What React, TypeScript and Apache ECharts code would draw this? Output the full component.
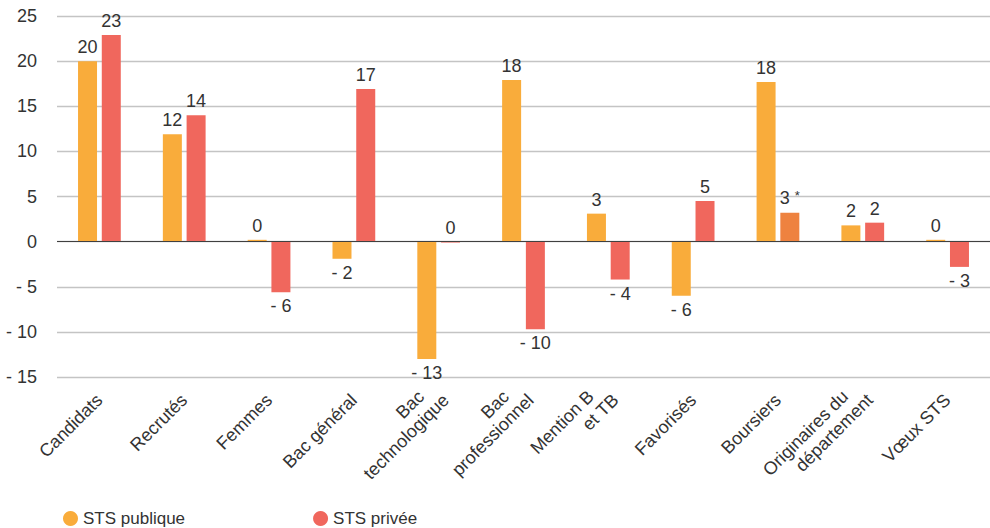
import React, { useEffect, useRef } from "react";
import * as echarts from "echarts";

// Category labels (line breaks as displayed under the axis)
const categories: string[] = [
  "Candidats",
  "Recrutés",
  "Femmes",
  "Bac général",
  "Bac\ntechnologique",
  "Bac\nprofessionnel",
  "Mention B\net TB",
  "Favorisés",
  "Boursiers",
  "Originaires du\ndépartement",
  "Vœux STS",
];

const seriesNames: string[] = ["STS publique", "STS privée"];

// Differences in points
const publique: number[] = [20, 11.9, 0.2, -1.9, -13, 17.9, 3.1, -6, 17.7, 1.8, 0.2];
const privee: number[] = [22.9, 14, -5.6, 16.9, -0.1, -9.7, -4.2, 4.5, 3.2, 2.1, -2.8];

// Footnote markers attached to some values of the private series
const priveeNotes: string[] = ["", "", "", "", "", "", "", "", "*", "", ""];

const yTicks = { min: -15, max: 25, interval: 5 };

const FONT = "'Liberation Sans', Arial, sans-serif";
const TEXT = "#333333";
const ORANGE = "#F9AC3B";
const RED = "#F0675D";
const DARK_ORANGE = "#EE823F";
const AXIS_FS = 18;
const LINE_H = 20;

const fmt = (v: number): string => {
  const r = Math.round(v);
  return r < 0 ? `- ${Math.abs(r)}` : `${Math.abs(r)}`;
};

const buildData = (values: number[], notes?: string[], noteColor?: string) =>
  values.map((v, i) => {
    const note = notes ? notes[i] : "";
    const item: any = {
      value: v,
      label: { position: Math.round(v) < 0 ? "bottom" : "top" },
    };
    if (note) {
      item.label.formatter = `{v|${fmt(v)}} {s|${note}}`;
      item.itemStyle = { color: noteColor };
    }
    return item;
  });

// Rotated category labels: the ends of all lines sit at the same height,
// so single lines get a small spacer and first lines of pairs are pulled back.
const categoryLabel = (val: string): string => {
  const lines = val.split("\n");
  if (lines.length === 1) return `{gap| }\n{one|${val}}`;
  return `{l1|${lines[0]}}\n{l2|${lines[1]}}`;
};

export default function App() {
  const ref = useRef<HTMLDivElement>(null);

  useEffect(() => {
    if (!ref.current) return;
    const chart = echarts.init(ref.current, undefined, { renderer: "svg" });

    const labelCommon = {
      show: true,
      color: TEXT,
      fontFamily: FONT,
      fontSize: 18,
      distance: 5,
      formatter: (p: any) => fmt(p.value),
      rich: {
        v: { color: TEXT, fontFamily: FONT, fontSize: 18 },
        s: { color: TEXT, fontFamily: FONT, fontSize: 13, padding: [0, 0, 6, 0] },
      },
    };

    const axisText = { color: TEXT, fontFamily: FONT, fontSize: AXIS_FS, lineHeight: LINE_H };

    chart.setOption({
      animation: false,
      backgroundColor: "#ffffff",
      textStyle: { fontFamily: FONT },
      grid: { left: 57, right: 0, top: 16, bottom: 151, containLabel: false },
      legend: {
        data: seriesNames,
        left: 58,
        top: 505,
        icon: "circle",
        itemWidth: 15,
        itemHeight: 15,
        itemGap: 128,
        textStyle: { color: TEXT, fontFamily: FONT, fontSize: 17 },
        selectedMode: false,
      },
      xAxis: {
        type: "category",
        data: categories,
        axisLine: { show: false, onZero: false },
        axisTick: { show: false },
        splitLine: { show: false },
        axisLabel: {
          interval: 0,
          rotate: 45,
          margin: 13,
          color: TEXT,
          fontFamily: FONT,
          fontSize: AXIS_FS,
          formatter: categoryLabel,
          rich: {
            gap: { fontFamily: FONT, fontSize: 1, lineHeight: 10, align: "right" },
            one: { ...axisText, align: "right", padding: [0, 5, 0, 0] },
            l1: { ...axisText, align: "right", padding: [0, 15, 0, 0] },
            l2: { ...axisText, align: "right" },
          },
        },
      },
      yAxis: {
        type: "value",
        min: yTicks.min,
        max: yTicks.max,
        interval: yTicks.interval,
        axisLine: { show: false },
        axisTick: { show: false },
        splitLine: { show: true, lineStyle: { color: "#C4C4C4", width: 1.3 } },
        axisLabel: {
          margin: 20,
          color: TEXT,
          fontFamily: FONT,
          fontSize: AXIS_FS,
          formatter: (v: number) => fmt(v),
        },
      },
      series: [
        {
          name: seriesNames[0],
          type: "bar",
          barWidth: 19,
          barGap: "25%",
          itemStyle: { color: ORANGE },
          label: labelCommon,
          data: buildData(publique),
          markLine: {
            silent: true,
            symbol: "none",
            label: { show: false },
            lineStyle: { color: "#404040", width: 1.2, type: "solid" },
            data: [{ yAxis: 0 }],
          },
        },
        {
          name: seriesNames[1],
          type: "bar",
          barWidth: 19,
          barGap: "25%",
          itemStyle: { color: RED },
          label: labelCommon,
          data: buildData(privee, priveeNotes, DARK_ORANGE),
        },
      ],
    });

    return () => chart.dispose();
  }, []);

  return (
    <div
      ref={ref}
      style={{ position: "fixed", left: 0, top: 0, width: 990, height: 528, background: "#fff" }}
    />
  );
}
